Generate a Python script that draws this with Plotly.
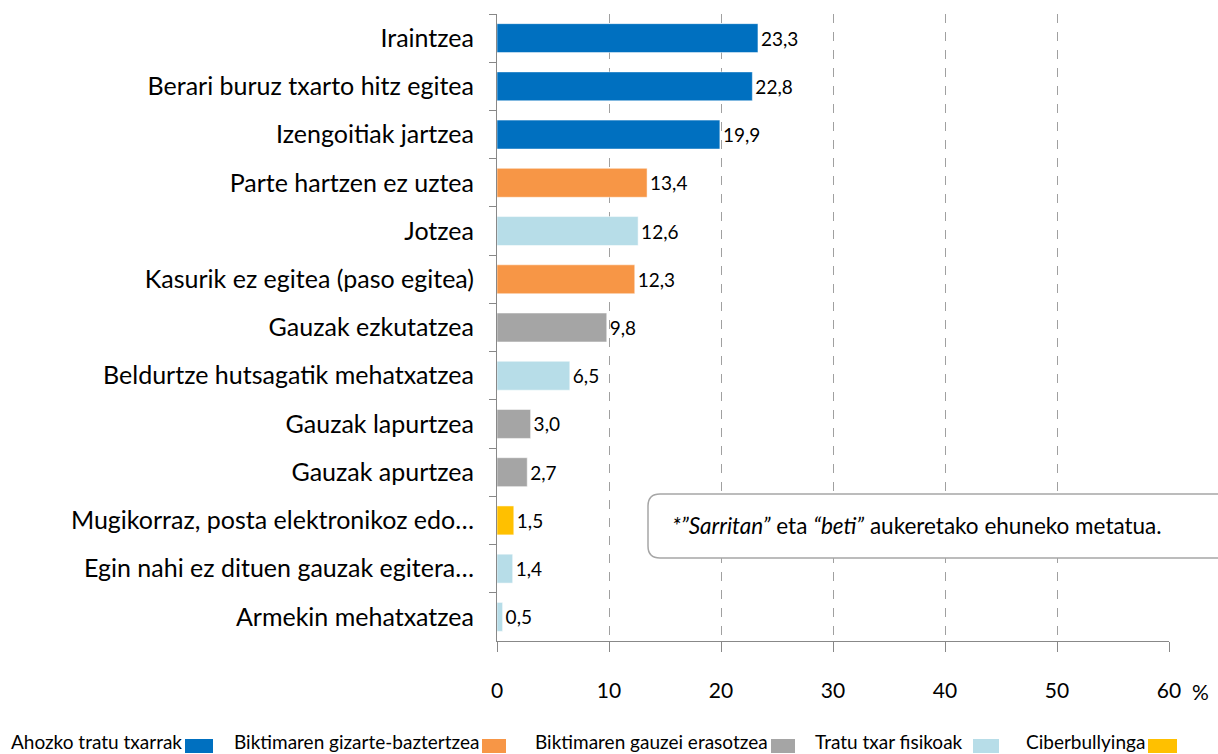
import plotly.graph_objects as go

categories = [
    "Iraintzea",
    "Berari buruz txarto hitz egitea",
    "Izengoitiak jartzea",
    "Parte hartzen ez uztea",
    "Jotzea",
    "Kasurik ez egitea (paso egitea)",
    "Gauzak ezkutatzea",
    "Beldurtze hutsagatik mehatxatzea",
    "Gauzak lapurtzea",
    "Gauzak apurtzea",
    "Mugikorraz, posta elektronikoz edo…",
    "Egin nahi ez dituen gauzak egitera…",
    "Armekin mehatxatzea",
]
values = [23.3, 22.8, 19.9, 13.4, 12.6, 12.3, 9.8, 6.5, 3.0, 2.7, 1.5, 1.4, 0.5]
groups = ["A", "A", "A", "B", "D", "B", "C", "D", "C", "C", "E", "D", "D"]

group_names = {
    "A": "Ahozko tratu txarrak",
    "B": "Biktimaren gizarte-baztertzea",
    "C": "Biktimaren gauzei erasotzea",
    "D": "Tratu txar fisikoak",
    "E": "Ciberbullyinga",
}
group_colors = {
    "A": "#0070C0",
    "B": "#F79646",
    "C": "#A5A5A5",
    "D": "#B7DDE8",
    "E": "#FFC000",
}
x_ticks = [0, 10, 20, 30, 40, 50, 60]
x_tick_labels = ["0", "10", "20", "30", "40", "50", "60"]
x_unit = "%"
note = '<i>*”Sarritan”</i> eta <i>“beti”</i> aukeretako ehuneko metatua.'

FONT = "Lato"

fig = go.Figure()
for g in ["A", "B", "C", "D", "E"]:
    ys = [c for c, gg in zip(categories, groups) if gg == g]
    xs = [v for v, gg in zip(values, groups) if gg == g]
    fig.add_trace(go.Bar(
        y=ys, x=xs, orientation="h", name=group_names[g],
        marker=dict(color=group_colors[g], line=dict(color="rgba(255,255,255,0.5)", width=1)),
        width=0.6,
        text=[f"{v:.1f}".replace(".", ",") for v in xs],
        textposition="outside", cliponaxis=False,
        textfont=dict(family=FONT, size=19, color="#000000"),
        showlegend=False,
    ))

fig.update_layout(
    width=1218, height=754,
    margin=dict(l=497, r=49, t=14, b=113),
    plot_bgcolor="white", paper_bgcolor="white",
    font=dict(family=FONT, size=19, color="#000000"),
    showlegend=False,
)
fig.update_xaxes(
    range=[0, 60], tickvals=x_ticks, ticktext=x_tick_labels,
    showgrid=True, gridcolor="#A0A0A0", griddash="dash", gridwidth=1,
    showline=True, linecolor="#888888", linewidth=1,
    ticks="outside", ticklen=10, tickcolor="#888888",
    tickfont=dict(family=FONT, size=21), ticklabelstandoff=21,
    zeroline=False,
)
fig.update_yaxes(
    categoryorder="array", categoryarray=categories, autorange="reversed",
    showline=True, linecolor="#888888", linewidth=1,
    ticks="outside", ticklen=7, tickcolor="#888888", tickson="boundaries",
    tickfont=dict(family=FONT, size=25), ticklabelstandoff=17,
    showgrid=False,
)

# pixel helpers relative to the plot area
pl, pr, pt, pb = 497, 1169, 14, 641
def dx(x): return (x - pl) / (pr - pl)
def dy(y): return (pb - y) / (pb - pt)

# unit after the last tick label
fig.add_annotation(text=x_unit, xref="paper", yref="paper", x=dx(1190), y=dy(691),
                   xanchor="left", yanchor="middle", showarrow=False,
                   font=dict(family=FONT, size=21, color="#000000"))

# Note box with rounded corners
x0, x1, y0, y1, r = 648, 1240, 494, 558, 12
path = (f"M {dx(x0+r)},{dy(y0)} L {dx(x1-r)},{dy(y0)} Q {dx(x1)},{dy(y0)} {dx(x1)},{dy(y0+r)} "
        f"L {dx(x1)},{dy(y1-r)} Q {dx(x1)},{dy(y1)} {dx(x1-r)},{dy(y1)} "
        f"L {dx(x0+r)},{dy(y1)} Q {dx(x0)},{dy(y1)} {dx(x0)},{dy(y1-r)} "
        f"L {dx(x0)},{dy(y0+r)} Q {dx(x0)},{dy(y0)} {dx(x0+r)},{dy(y0)} Z")
fig.add_shape(type="path", path=path, xref="x domain", yref="y domain",
              line=dict(color="#A6A6A6", width=1.5), fillcolor="white", layer="above")
fig.add_annotation(text=note, xref="x domain", yref="y domain",
                   x=dx(670), y=dy(525), xanchor="left", yanchor="middle",
                   showarrow=False, font=dict(family=FONT, size=22.5, color="#000000"))

# Legend: text followed by a swatch
legend_items = [
    ("A", 185, 213),
    ("B", 482, 506),
    ("C", 771, 795),
    ("D", 973, 999),
    ("E", 1148, 1177),
]
for g, sx0, sx1 in legend_items:
    gap = 8 if g == "D" else 1
    fig.add_annotation(text=group_names[g], xref="paper", yref="paper",
                       x=dx(sx0 - gap), y=dy(741),
                       xanchor="right", yanchor="middle", showarrow=False,
                       font=dict(family=FONT, size=19, color="#000000"))
    fig.add_shape(type="rect", xref="paper", yref="paper",
                  x0=dx(sx0), x1=dx(sx1),
                  y0=dy(753), y1=dy(739),
                  fillcolor=group_colors[g], line=dict(width=0))

fig.write_html("out.html", config={"displayModeBar": False},
               post_script="document.body.style.margin='0';")
